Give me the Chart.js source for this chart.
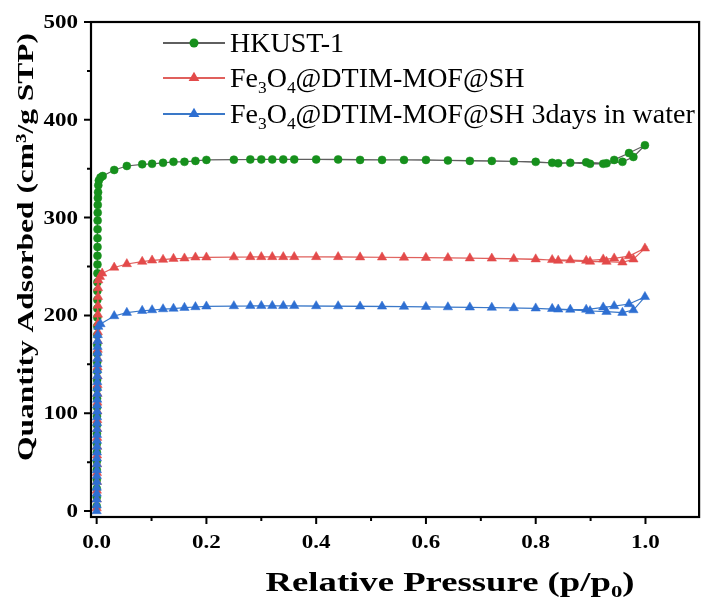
<!DOCTYPE html>
<html lang="en">
<head>
<meta charset="UTF-8">
<title>N2 isotherms</title>
<script src="https://cdn.jsdelivr.net/npm/chart.js"></script>
<style>
  html, body { margin: 0; padding: 0; background: #fff; }
</style>
</head>
<body>
<canvas id="chart" width="705" height="601"></canvas>
<script>
// ---- data ----
const seriesLabels = ['HKUST-1', 'Fe_{3}O_{4}@DTIM-MOF@SH', 'Fe_{3}O_{4}@DTIM-MOF@SH 3days in water'];

// HKUST-1: adsorption then desorption
const hkustP = [0.0001,0.0002,0.0002,0.0003,0.0003,0.0004,0.0004,0.0005,0.0005,0.0006,0.0006,0.0007,0.0007,0.0008,0.0008,0.0009,0.0009,0.0010,0.0010,0.0011,0.0011,0.0012,0.0012,0.0013,0.0013,0.0014,0.0014,0.0015,0.0015,0.0016,0.0016,0.0017,0.0018,0.0019,0.0020,
  0.0022,0.0026,0.003,0.004,0.007,0.011,0.032,0.055,0.083,0.101,0.121,0.140,0.160,0.180,0.200,0.250,0.300,0.340,0.400,0.480,0.560,0.640,0.720,0.800,0.841,0.892,0.929,0.958,0.978,0.999,
  0.970,0.943,0.923,0.899,0.863,0.830,0.760,0.680,0.600,0.520,0.440,0.360,0.320,0.280];
const hkustQ = [5,14,23,32,42,51,60,69,79,88,97,106,115,125,134,143,152,161,170,180,189,198,207,216,225,234,243,252,261,270,279,288,297,305,313,
  320,326,333,338,341,342.5,348.7,352.8,354.5,355,356,357,357,358,359,359.2,359.5,359.5,359.5,359,359,358.5,358,357,355.5,356.5,355.5,357,362,374,
  366,359,355,355,356,356,357.5,358,359,359,359.5,359.5,359.5,359.5];

// Fe3O4@DTIM-MOF@SH
const fresP = [0.0001,0.0002,0.0003,0.0004,0.0005,0.0006,0.0007,0.0008,0.0009,0.0010,0.0011,0.0012,0.0013,0.0014,0.0015,0.0016,0.0017,0.0018,0.0019,0.0020,0.0021,0.0022,0.0023,0.0024,0.0025,0.0026,
  0.003,0.006,0.010,0.032,0.055,0.083,0.101,0.121,0.140,0.160,0.180,0.200,0.250,0.300,0.340,0.400,0.480,0.560,0.640,0.720,0.800,0.841,0.899,0.929,0.958,0.978,0.999,
  0.970,0.943,0.923,0.892,0.863,0.830,0.760,0.680,0.600,0.520,0.440,0.360,0.320,0.280];
const fresQ = [3,12,21,30,39,48,57,66,75,84,93,102,111,120,129,138,147,156,165,174,183,192,201,210,219,228,
  236,239.6,243,249,252.6,255,256.3,257,258,258.4,259.4,259.4,259.6,259.8,259.8,259.8,259.5,259.2,258.8,258.3,257.5,256,255,255,254.3,257.4,268.6,
  260.7,258.4,257.4,256,256.6,256.8,257.8,258.5,259,259.4,259.8,259.8,259.8,259.8];

// Fe3O4@DTIM-MOF@SH 3 days in water
const waterP = [0.0000,0.0001,0.0001,0.0002,0.0002,0.0003,0.0003,0.0004,0.0004,0.0005,0.0005,0.0006,0.0006,0.0007,0.0007,0.0008,0.0008,0.0009,0.0009,0.0010,0.0010,0.0011,0.0011,0.0012,0.0012,0.0013,0.0014,0.0015,0.0016,0.0018,0.0020,
  0.003,0.007,0.032,0.055,0.083,0.101,0.121,0.140,0.160,0.180,0.200,0.250,0.300,0.340,0.400,0.480,0.560,0.640,0.720,0.800,0.841,0.899,0.929,0.958,0.978,0.999,
  0.970,0.943,0.923,0.892,0.863,0.830,0.760,0.680,0.600,0.520,0.440,0.360,0.320,0.280];
const waterQ = [0,6,12,18,24,30,36,42,48,54,60,66,72,78,84,90,96,102,108,114,120,126,132,138,144,150,156,162,168,174,180,
  188.5,191.2,199.4,202.8,204.8,205.5,206.5,207,207.9,208.6,209.3,209.6,209.8,209.8,209.6,209.3,209,208.5,208,207.3,206.2,204.5,203.8,202.8,205.5,219,
  211.7,209.6,208.3,206,206,206.8,207.6,208.3,208.8,209.2,209.5,209.8,209.8,209.8];

// axis ticks
const xMajor = [0, 0.2, 0.4, 0.6, 0.8, 1.0];
const xMinor = [0.1, 0.3, 0.5, 0.7, 0.9];
const yMajor = [0, 100, 200, 300, 400, 500];
const yMinor = [50, 150, 250, 350, 450];
const xTitle = 'Relative Pressure (p/p_{0})';
const yTitle = 'Quantity Adsorbed (cm\u00B3/g STP)';

const lineColors = ['#5f5f5f', '#e0605c', '#3a78c8'];
const markColors = ['#16901c', '#e34a4a', '#2e6fd2'];
const markStyles = ['circle', 'triangle', 'triangle'];
const markRadius = [4, 5.4, 5.4];

function pts(xs, ys) { return xs.map((x, i) => ({ x: x, y: ys[i] })); }

const allData = [pts(hkustP, hkustQ), pts(fresP, fresQ), pts(waterP, waterQ)];

// ---- text helpers: bold axis text is drawn horizontally stretched like the original ----
function parseRich(str) {
  const parts = [];
  const re = /_\{([^}]*)\}/g;
  let last = 0, m;
  while ((m = re.exec(str))) {
    if (m.index > last) parts.push([str.slice(last, m.index), false]);
    parts.push([m[1], true]);
    last = re.lastIndex;
  }
  if (last < str.length) parts.push([str.slice(last), false]);
  return parts;
}

function richWidth(ctx, parts, size, weight, fam) {
  let w = 0;
  parts.forEach(p => {
    ctx.font = weight + ' ' + (p[1] ? size * 0.62 : size) + 'px ' + fam;
    w += ctx.measureText(p[0]).width;
  });
  return w;
}

// draws at current transform origin, baseline at y=0
function drawRich(ctx, str, size, weight, fam, align) {
  const parts = parseRich(str);
  const w = richWidth(ctx, parts, size, weight, fam);
  let x = align === 'center' ? -w / 2 : 0;
  ctx.textAlign = 'left';
  ctx.textBaseline = 'alphabetic';
  parts.forEach(p => {
    const s = p[1] ? size * 0.62 : size;
    ctx.font = weight + ' ' + s + 'px ' + fam;
    ctx.fillText(p[0], x, p[1] ? size * 0.22 : 0);
    x += ctx.measureText(p[0]).width;
  });
}

const SERIF = '"Liberation Serif", "Times New Roman", serif';

function drawMarker(ctx, style, r, x, y) {
  ctx.beginPath();
  if (style === 'circle') {
    ctx.arc(x, y, r, 0, Math.PI * 2);
  } else {
    ctx.moveTo(x, y - r);
    ctx.lineTo(x + r * 0.866, y + r * 0.5);
    ctx.lineTo(x - r * 0.866, y + r * 0.5);
    ctx.closePath();
  }
  ctx.fill();
}

const decor = {
  id: 'decor',
  afterDatasetsDraw(chart) {
    const ctx = chart.ctx;
    const a = chart.chartArea;
    const xs = chart.scales.x, ys = chart.scales.y;
    ctx.save();
    ctx.strokeStyle = '#000';
    ctx.fillStyle = '#000';
    ctx.lineWidth = 2.2;
    ctx.strokeRect(a.left, a.top, a.right - a.left, a.bottom - a.top);

    // ticks (outward)
    ctx.lineWidth = 2;
    ctx.beginPath();
    xMajor.forEach(v => { const p = xs.getPixelForValue(v); ctx.moveTo(p, a.bottom); ctx.lineTo(p, a.bottom + 7); });
    xMinor.forEach(v => { const p = xs.getPixelForValue(v); ctx.moveTo(p, a.bottom); ctx.lineTo(p, a.bottom + 4); });
    yMajor.forEach(v => { const p = ys.getPixelForValue(v); ctx.moveTo(a.left, p); ctx.lineTo(a.left - 7, p); });
    yMinor.forEach(v => { const p = ys.getPixelForValue(v); ctx.moveTo(a.left, p); ctx.lineTo(a.left - 4, p); });
    ctx.stroke();

    // tick labels
    const sx = 1.28;
    xMajor.forEach(v => {
      ctx.save();
      ctx.translate(xs.getPixelForValue(v), a.bottom + 31);
      ctx.scale(sx, 1);
      drawRich(ctx, v.toFixed(1), 18, 'bold', SERIF, 'center');
      ctx.restore();
    });
    yMajor.forEach(v => {
      ctx.save();
      ctx.font = 'bold 18px ' + SERIF;
      const w = ctx.measureText(String(v)).width * sx;
      ctx.translate(a.left - 13 - w, ys.getPixelForValue(v) + 6);
      ctx.scale(sx, 1);
      drawRich(ctx, String(v), 18, 'bold', SERIF, 'left');
      ctx.restore();
    });

    // axis titles
    ctx.save();
    ctx.translate(450, 591);
    ctx.scale(1.36, 1);
    drawRich(ctx, xTitle, 27, 'bold', SERIF, 'center');
    ctx.restore();

    ctx.save();
    ctx.translate(33, 247);
    ctx.rotate(-Math.PI / 2);
    ctx.scale(1.31, 1);
    drawRich(ctx, yTitle, 24, 'bold', SERIF, 'center');
    ctx.restore();

    // legend
    const rows = [43, 78, 114];
    seriesLabels.forEach((lab, i) => {
      const y = rows[i];
      ctx.strokeStyle = lineColors[i];
      ctx.lineWidth = 2;
      ctx.beginPath();
      ctx.moveTo(163, y); ctx.lineTo(225, y);
      ctx.stroke();
      ctx.fillStyle = markColors[i];
      drawMarker(ctx, markStyles[i], markStyles[i] === 'circle' ? 4.5 : 6.2, 194, y);
      ctx.fillStyle = '#000';
      ctx.save();
      ctx.translate(230, y + 9);
      drawRich(ctx, lab, 28, 'normal', SERIF, 'left');
      ctx.restore();
    });
    ctx.restore();
  }
};

new Chart(document.getElementById('chart'), {
  type: 'scatter',
  data: {
    datasets: allData.map((d, i) => ({
      label: seriesLabels[i].replace(/_\{([^}]*)\}/g, '$1'),
      data: d,
      showLine: true,
      borderColor: lineColors[i],
      borderWidth: 1.2,
      pointStyle: markStyles[i],
      pointRadius: markRadius[i],
      pointBackgroundColor: markColors[i],
      pointBorderColor: markColors[i],
      pointBorderWidth: 0.5,
      order: 2 - i
    }))
  },
  options: {
    responsive: false,
    animation: false,
    layout: { padding: { top: 22, right: 2, left: 0, bottom: 0 } },
    plugins: { legend: { display: false }, tooltip: { enabled: false } },
    scales: {
      x: {
        type: 'linear', min: -0.0103, max: 1.0977,
        ticks: { display: false }, grid: { display: false }, border: { display: false },
        afterFit: s => { s.height = 84; }
      },
      y: {
        type: 'linear', min: -6.1, max: 500,
        ticks: { display: false }, grid: { display: false }, border: { display: false },
        afterFit: s => { s.width = 91; }
      }
    }
  },
  plugins: [decor]
});
</script>
</body>
</html>
